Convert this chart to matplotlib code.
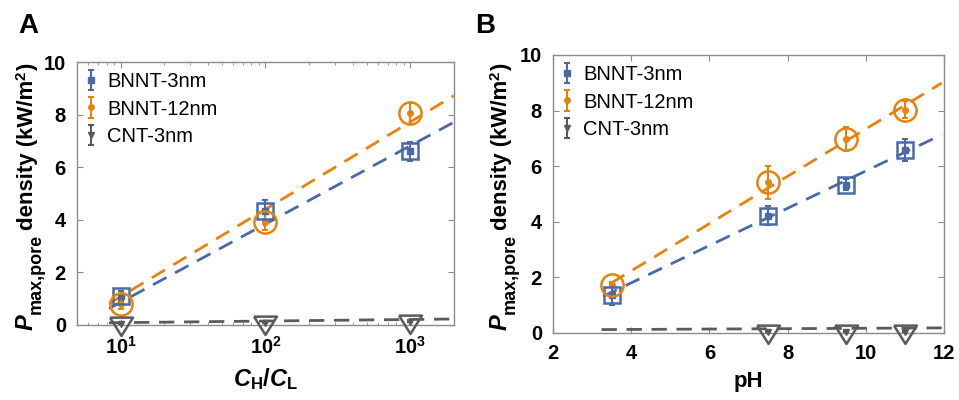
import numpy as np
import matplotlib
matplotlib.use('Agg')
import matplotlib.pyplot as plt
from matplotlib.transforms import IdentityTransform

plt.rcParams['font.family'] = ['Liberation Sans', 'DejaVu Sans']
plt.rcParams['mathtext.fontset'] = 'custom'
plt.rcParams['mathtext.rm'] = 'Liberation Sans:bold'
plt.rcParams['mathtext.bf'] = 'Liberation Sans:bold'
plt.rcParams['mathtext.it'] = 'Liberation Sans:italic:bold'

# ---- данные панели A (C_H/C_L) ----
ratio = [10, 100, 1000]
bn3_a = [1.1, 4.35, 6.6]
bn3_a_err = [0.2, 0.4, 0.35]
bn12_a = [0.8, 3.93, 8.06]
bn12_a_err = [0.2, 0.3, 0.4]
cnt_a = [0.05, 0.08, 0.12]
cnt_a_err = [0.02, 0.02, 0.02]
# линейная аппроксимация y = k*log10(x) + b
fit_a = {'bn3': (2.975, -2.11), 'bn12': (3.32, -2.24), 'cnt': (0.06, 0.03)}
fit_a_range = (0.92, 3.3)

# ---- данные панели B (pH) ----
ph = [3.5, 7.5, 9.5, 11]
bn3_b = [1.38, 4.22, 5.34, 6.57]
bn3_b_err = [0.38, 0.35, 0.2, 0.4]
bn12_b = [1.74, 5.42, 6.98, 8.03]
bn12_b_err = [0.1, 0.6, 0.42, 0.3]
ph_cnt = [7.5, 9.5, 11]
cnt_b = [0.05, 0.05, 0.05]
cnt_b_err = [0.02, 0.02, 0.02]
fit_b = {'bn3': (0.671, -0.88), 'bn12': (0.851, -1.17), 'cnt': (0.007, 0.10)}
fit_b_range = {'bn3': (3.28, 11.94), 'bn12': (3.49, 11.94), 'cnt': (3.24, 11.94)}

blue = '#4a6aa5'
orange = '#e6830d'
gray = '#5a5a5a'
labels = ['BNNT-3nm', 'BNNT-12nm', 'CNT-3nm']

# треугольник вершиной вниз, чуть сплюснутый
tri = [(-1, 0.6), (1, 0.6), (0, -1.0), (-1, 0.6)]

fig = plt.figure(figsize=(9.59, 4.0), dpi=100)
axA = fig.add_axes([0.0803, 0.1875, 0.393, 0.6575])
axB = fig.add_axes([0.5767, 0.1675, 0.4077, 0.695])


def draw_points(ax, x, y, err, color, small, big, bigsize, label):
    ax.errorbar(x, y, yerr=err, fmt=small, ms=4, color=color, ecolor=color,
                elinewidth=1.5, capsize=2.5, capthick=1.5, label=label,
                zorder=4, clip_on=False)
    ax.plot(x, y, marker=big, ms=bigsize, mfc='none', mec=color, mew=1.8,
            linestyle='none', zorder=5, clip_on=False)


def style(ax):
    ax.tick_params(direction='in', top=True, right=True, length=4,
                   labelsize=14.5, pad=8, color='#8c8c8c')
    ax.tick_params(which='minor', direction='in', top=True, right=True,
                   length=2.2, color='#8c8c8c')
    for s in ax.spines.values():
        s.set_color('#8c8c8c')
        s.set_linewidth(1.0)
    for t in ax.get_xticklabels() + ax.get_yticklabels():
        t.set_fontweight('bold')
    ax.set_ylim(0, 10)
    ax.set_yticks([0, 2, 4, 6, 8, 10])
    ax.legend(loc='upper left', bbox_to_anchor=(-0.005, 1.0), frameon=False,
              fontsize=14.5, handlelength=0.6, handletextpad=0.5,
              labelspacing=0.42, borderaxespad=0.1)


def ylabel_parts(x_base, y_start):
    # подпись оси Y собирается из кусков: P, индекс, остальное
    r = fig.canvas.get_renderer()
    parts = [('P', 17, 'italic', 0, 0),
             ('max,pore', 13, 'normal', 8, 4),
             ('density (kW/m', 16, 'normal', 0, 0),
             ('2', 11, 'normal', -8, 0),
             (')', 16, 'normal', 0, 0)]
    y = y_start
    for txt, size, style_, shift, gap in parts:
        t = fig.text(x_base + shift, y, txt, transform=IdentityTransform(),
                     rotation=90, rotation_mode='anchor', ha='left',
                     va='baseline', fontsize=size, fontweight='bold',
                     fontstyle=style_)
        y += t.get_window_extent(r).height + gap


# ---- панель A ----
xx = np.linspace(*fit_a_range, 50)
for key, c in zip(['bn3', 'bn12', 'cnt'], [blue, orange, gray]):
    k, b = fit_a[key]
    axA.plot(10 ** xx, k * xx + b, color=c, lw=2, dashes=(5.5, 3.5), zorder=3)
draw_points(axA, ratio, bn3_a, bn3_a_err, blue, 's', 's', 11, labels[0])
draw_points(axA, ratio, bn12_a, bn12_a_err, orange, 'o', 'o', 16, labels[1])
draw_points(axA, ratio, cnt_a, cnt_a_err, gray, 'v', tri, 16.5, labels[2])
axA.set_xscale('log')
axA.set_xlim(5, 2000)
axA.set_xticks(ratio)
axA.set_xticklabels([r'$\rm 10^{1}$', r'$\rm 10^{2}$', r'$\rm 10^{3}$'])
axA.set_xlabel(r'$C_{\rm H}/C_{\rm L}$', fontsize=17, labelpad=6)
style(axA)

# ---- панель B ----
for key, c in zip(['bn3', 'bn12', 'cnt'], [blue, orange, gray]):
    k, b = fit_b[key]
    xb = np.linspace(*fit_b_range[key], 50)
    axB.plot(xb, k * xb + b, color=c, lw=2, dashes=(5.5, 3.5), zorder=3)
draw_points(axB, ph, bn3_b, bn3_b_err, blue, 's', 's', 11, labels[0])
draw_points(axB, ph, bn12_b, bn12_b_err, orange, 'o', 'o', 16, labels[1])
draw_points(axB, ph_cnt, cnt_b, cnt_b_err, gray, 'v', tri, 16.5, labels[2])
axB.set_xlim(2, 12)
axB.set_xticks([2, 4, 6, 8, 10, 12])
axB.set_xlabel('pH', fontsize=16, fontweight='bold', labelpad=6)
style(axB)

ylabel_parts(33, 400 - 330)
ylabel_parts(507, 400 - 330)

fig.text(0.0188, 1 - 33 / 400, 'A', fontsize=20, fontweight='bold')
fig.text(0.4953, 1 - 33 / 400, 'B', fontsize=20, fontweight='bold')

fig.savefig('out.png', dpi=100)
